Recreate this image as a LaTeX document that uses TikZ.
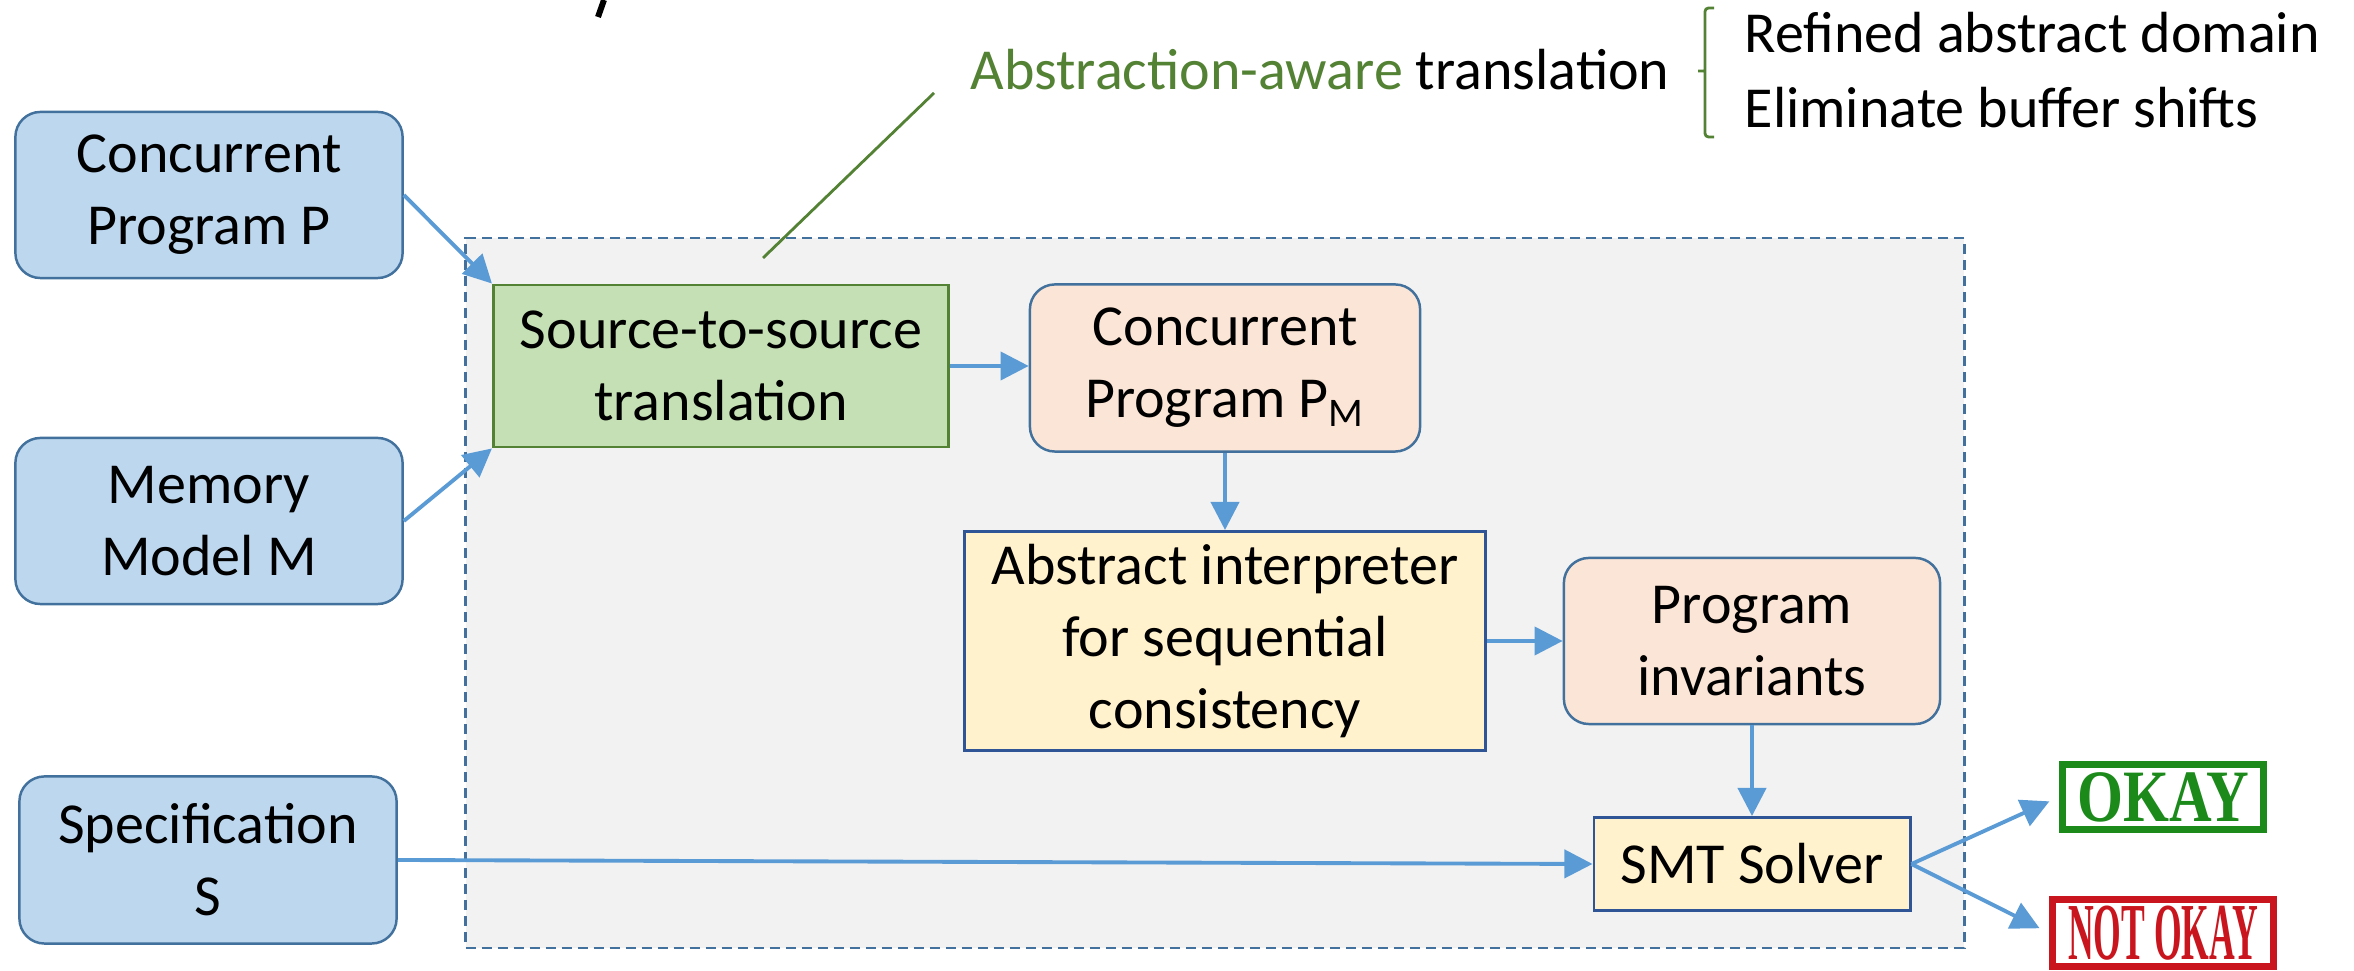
\documentclass[tikz,border=0pt]{standalone}
\usepackage{fontspec}
\usepackage{graphicx}
\setmainfont{Carlito}
\newfontfamily\stampfont{Liberation Serif}
\usetikzlibrary{arrows.meta}

\definecolor{inblue}{HTML}{BDD7EE}
\definecolor{edgeblue}{HTML}{41719C}
\definecolor{peach}{HTML}{FBE5D6}
\definecolor{paleyellow}{HTML}{FFF2CC}
\definecolor{deepblue}{HTML}{2F5597}
\definecolor{palegreen}{HTML}{C5E0B4}
\definecolor{leafgreen}{HTML}{548235}
\definecolor{flowblue}{HTML}{5B9BD5}
\definecolor{framegray}{HTML}{F2F2F2}
\definecolor{okgreen}{HTML}{1B8A1B}
\definecolor{badred}{HTML}{C9161E}

\begin{document}
\begin{tikzpicture}[
x=0.01cm, y=-0.01cm,
font=\fontsize{16.5}{20.5}\selectfont,
innode/.style={
  draw=edgeblue, fill=inblue, line width=0.7pt,
  rounded corners=0.25cm, align=center, inner sep=0pt,
  minimum width=3.87cm, minimum height=1.66cm
  },
midnode/.style={
  draw=edgeblue, fill=peach, line width=0.7pt,
  rounded corners=0.25cm, align=center, inner sep=0pt
  },
toolnode/.style={
  draw=deepblue, fill=paleyellow, line width=0.8pt,
  align=center, inner sep=0pt
  },
stampnode/.style={
  draw=#1, text=#1, line width=1.4pt, inner sep=0pt,
  font=\stampfont\bfseries
  },
flow/.style={
  -{Triangle[length=8pt,width=8pt]},
  every edge/.append style={draw=flowblue, line width=1.1pt}
  },
label/.style={anchor=west, inner sep=0pt}
]
\useasboundingbox (0,0) rectangle (2354,971);

% tail of a letter from the slide title
\draw[line width=1.7pt] (604,0) -- (598,17);

% dashed frame of the tool
\node[draw=edgeblue, fill=framegray, line width=0.7pt,
  dash pattern=on 0.1cm off 0.06cm,
  minimum width=14.98cm, minimum height=7.10cm] (frame) at (1215,593) {};

% inputs
\node[innode] (prog) at (209,195) {Concurrent\\Program P};
\node[innode] (mem)  at (209,521) {Memory\\Model M};
\node[innode, minimum width=3.77cm, minimum height=1.67cm] (spec) at (208,860) {Specification\\S};

% pipeline
\node[draw=leafgreen, fill=palegreen, line width=0.8pt, align=center, inner sep=0pt,
  minimum width=4.55cm, minimum height=1.62cm] (trans) at (721,366) {Source-to-source\\translation};
\node[midnode, minimum width=3.90cm, minimum height=1.67cm] (pm) at (1225,368) {Concurrent\\Program P\textsubscript{M}};
\node[toolnode, minimum width=5.21cm, minimum height=2.19cm] (absint) at (1225,641) {Abstract interpreter\\for sequential\\consistency};
\node[midnode, minimum width=3.76cm, minimum height=1.66cm] (inv) at (1752,641) {Program\\invariants};
\node[toolnode, minimum width=3.16cm, minimum height=0.93cm] (smt) at (1752,864) {SMT Solver};

% verdicts
\node[stampnode=okgreen, minimum width=2.03cm, minimum height=0.68cm] (okay) at (2163,797)
  {\fontsize{21}{22}\selectfont\scalebox{0.8}[1]{OKAY}};
\node[stampnode=badred, minimum width=2.23cm, minimum height=0.70cm] (notok) at (2163,933)
  {\fontsize{23}{24}\selectfont\scalebox{0.44}[1]{NOT OKAY}};
\draw[okgreen, line width=0.6pt] ([shift={(6,6)}]okay.north west) rectangle ([shift={(-6,-6)}]okay.south east);
\draw[badred, line width=0.6pt] ([shift={(6,6)}]notok.north west) rectangle ([shift={(-6,-6)}]notok.south east);

% note on the translation
\node[label] (note) at (970,70) {\textcolor{leafgreen}{Abstraction-aware} translation};
\coordinate (callout) at (934,93);
\coordinate (calltip) at (763,258);
\draw[leafgreen, line width=0.8pt] (callout) -- (calltip);
\draw[leafgreen, line width=0.8pt, rounded corners=1pt]
  (1714,8) -- (1705,8) -- (1705,137) -- (1714,137)
  (1705,71) -- (1698,71);
\node[label] (dom) at (1744,33) {Refined abstract domain};
\node[label] (buf) at (1744,108) {Eliminate buffer shifts};

% connectors
\path[flow]
  (prog.east) edge (trans.north west)
  (mem.east) edge (trans.south west)
  (trans.east) edge (trans.east -| pm.west)
  (pm) edge (absint)
  (absint) edge (inv)
  (inv) edge (smt)
  (spec.east) edge (smt.west)
  (smt.east) edge[shorten >=3pt] (okay.west)
  (smt.east) edge[shorten >=3pt] (notok.west);
\end{tikzpicture}
\end{document}
